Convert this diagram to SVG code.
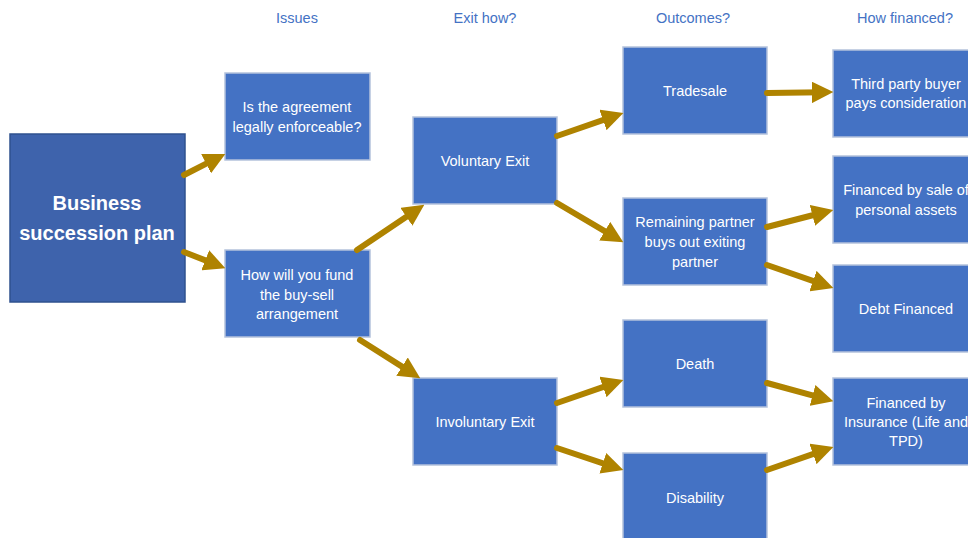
<svg xmlns="http://www.w3.org/2000/svg" width="968" height="538" viewBox="0 0 968 538">
<style>
.hdr{font-family:"Liberation Sans",Arial,sans-serif;font-size:14.5px;fill:#4472C4;text-anchor:middle}
.box{fill:#4472C4;stroke:#B4C2DC;stroke-width:1.5}
.main{fill:#3E63AC;stroke:#2F528F;stroke-width:1.5}
.t{font-family:"Liberation Sans",Arial,sans-serif;font-size:14.5px;fill:#fff;text-anchor:middle}
.tb{font-family:"Liberation Sans",Arial,sans-serif;font-size:20px;font-weight:bold;fill:#fff;text-anchor:middle}
.c line{stroke:#AF8300;stroke-width:6;stroke-linecap:round;marker-end:url(#ah)}
</style>
<defs>
<marker id="ah" viewBox="0 0 10 10" refX="5.2" refY="5" markerWidth="3.6" markerHeight="3.6" orient="auto">
<path d="M0,0 L10,5 L0,10 z" fill="#AF8300"/>
</marker>
</defs>
<rect width="968" height="538" fill="#fff"/>
<g id="headers">
<text class="hdr" x="297" y="23">Issues</text>
<text class="hdr" x="485" y="23">Exit how?</text>
<text class="hdr" x="693" y="23">Outcomes?</text>
<text class="hdr" x="905" y="23">How financed?</text>
</g>
<g id="n-main"><rect class="main" x="10" y="134" width="175" height="168"/>
<text class="tb" x="97" y="210">Business</text><text class="tb" x="97" y="240">succession plan</text></g>
<g id="n-agree"><rect class="box" x="225" y="73" width="145" height="87"/>
<text class="t" x="297" y="112">Is the agreement</text><text class="t" x="297" y="132">legally enforceable?</text></g>
<g id="n-fund"><rect class="box" x="225" y="250" width="145" height="87"/>
<text class="t" x="297" y="280">How will you fund</text><text class="t" x="297" y="300">the buy-sell</text><text class="t" x="297" y="319">arrangement</text></g>
<g id="n-vol"><rect class="box" x="413" y="117" width="144" height="87"/>
<text class="t" x="485" y="166">Voluntary Exit</text></g>
<g id="n-invol"><rect class="box" x="413" y="378" width="144" height="87"/>
<text class="t" x="485" y="427">Involuntary Exit</text></g>
<g id="n-trade"><rect class="box" x="623" y="47" width="144" height="87"/>
<text class="t" x="695" y="96">Tradesale</text></g>
<g id="n-remain"><rect class="box" x="623" y="198" width="144" height="87"/>
<text class="t" x="695" y="227">Remaining partner</text><text class="t" x="695" y="247">buys out exiting</text><text class="t" x="695" y="267">partner</text></g>
<g id="n-death"><rect class="box" x="623" y="320" width="144" height="87"/>
<text class="t" x="695" y="369">Death</text></g>
<g id="n-disab"><rect class="box" x="623" y="453" width="144" height="90"/>
<text class="t" x="695" y="503">Disability</text></g>
<g id="n-third"><rect class="box" x="833" y="50" width="145" height="87"/>
<text class="t" x="906" y="89">Third party buyer</text><text class="t" x="906" y="108">pays consideration</text></g>
<g id="n-sale"><rect class="box" x="833" y="156" width="145" height="87"/>
<text class="t" x="906" y="195">Financed by sale of</text><text class="t" x="906" y="215">personal assets</text></g>
<g id="n-debt"><rect class="box" x="833" y="265" width="145" height="87"/>
<text class="t" x="906" y="314">Debt Financed</text></g>
<g id="n-ins"><rect class="box" x="833" y="378" width="145" height="87"/>
<text class="t" x="906" y="408">Financed by</text><text class="t" x="906" y="427">Insurance (Life and</text><text class="t" x="906" y="446">TPD)</text></g>
<g id="connectors" class="c">
<line x1="184" y1="175" x2="216.1" y2="158.6"/>
<line x1="184" y1="252" x2="215.7" y2="264.4"/>
<line x1="357" y1="250" x2="415.7" y2="210.6"/>
<line x1="360" y1="340" x2="411.5" y2="372.6"/>
<line x1="557" y1="136" x2="613.6" y2="116.3"/>
<line x1="557" y1="203" x2="614.4" y2="236.9"/>
<line x1="767" y1="93" x2="823" y2="92.2"/>
<line x1="767" y1="227" x2="823.3" y2="212.5"/>
<line x1="767" y1="265" x2="823.6" y2="284.7"/>
<line x1="557" y1="403" x2="613.6" y2="383.3"/>
<line x1="557" y1="448" x2="613.5" y2="466.8"/>
<line x1="767" y1="383" x2="823.4" y2="398.4"/>
<line x1="767" y1="470" x2="823.6" y2="450.3"/>
</g>
</svg>
